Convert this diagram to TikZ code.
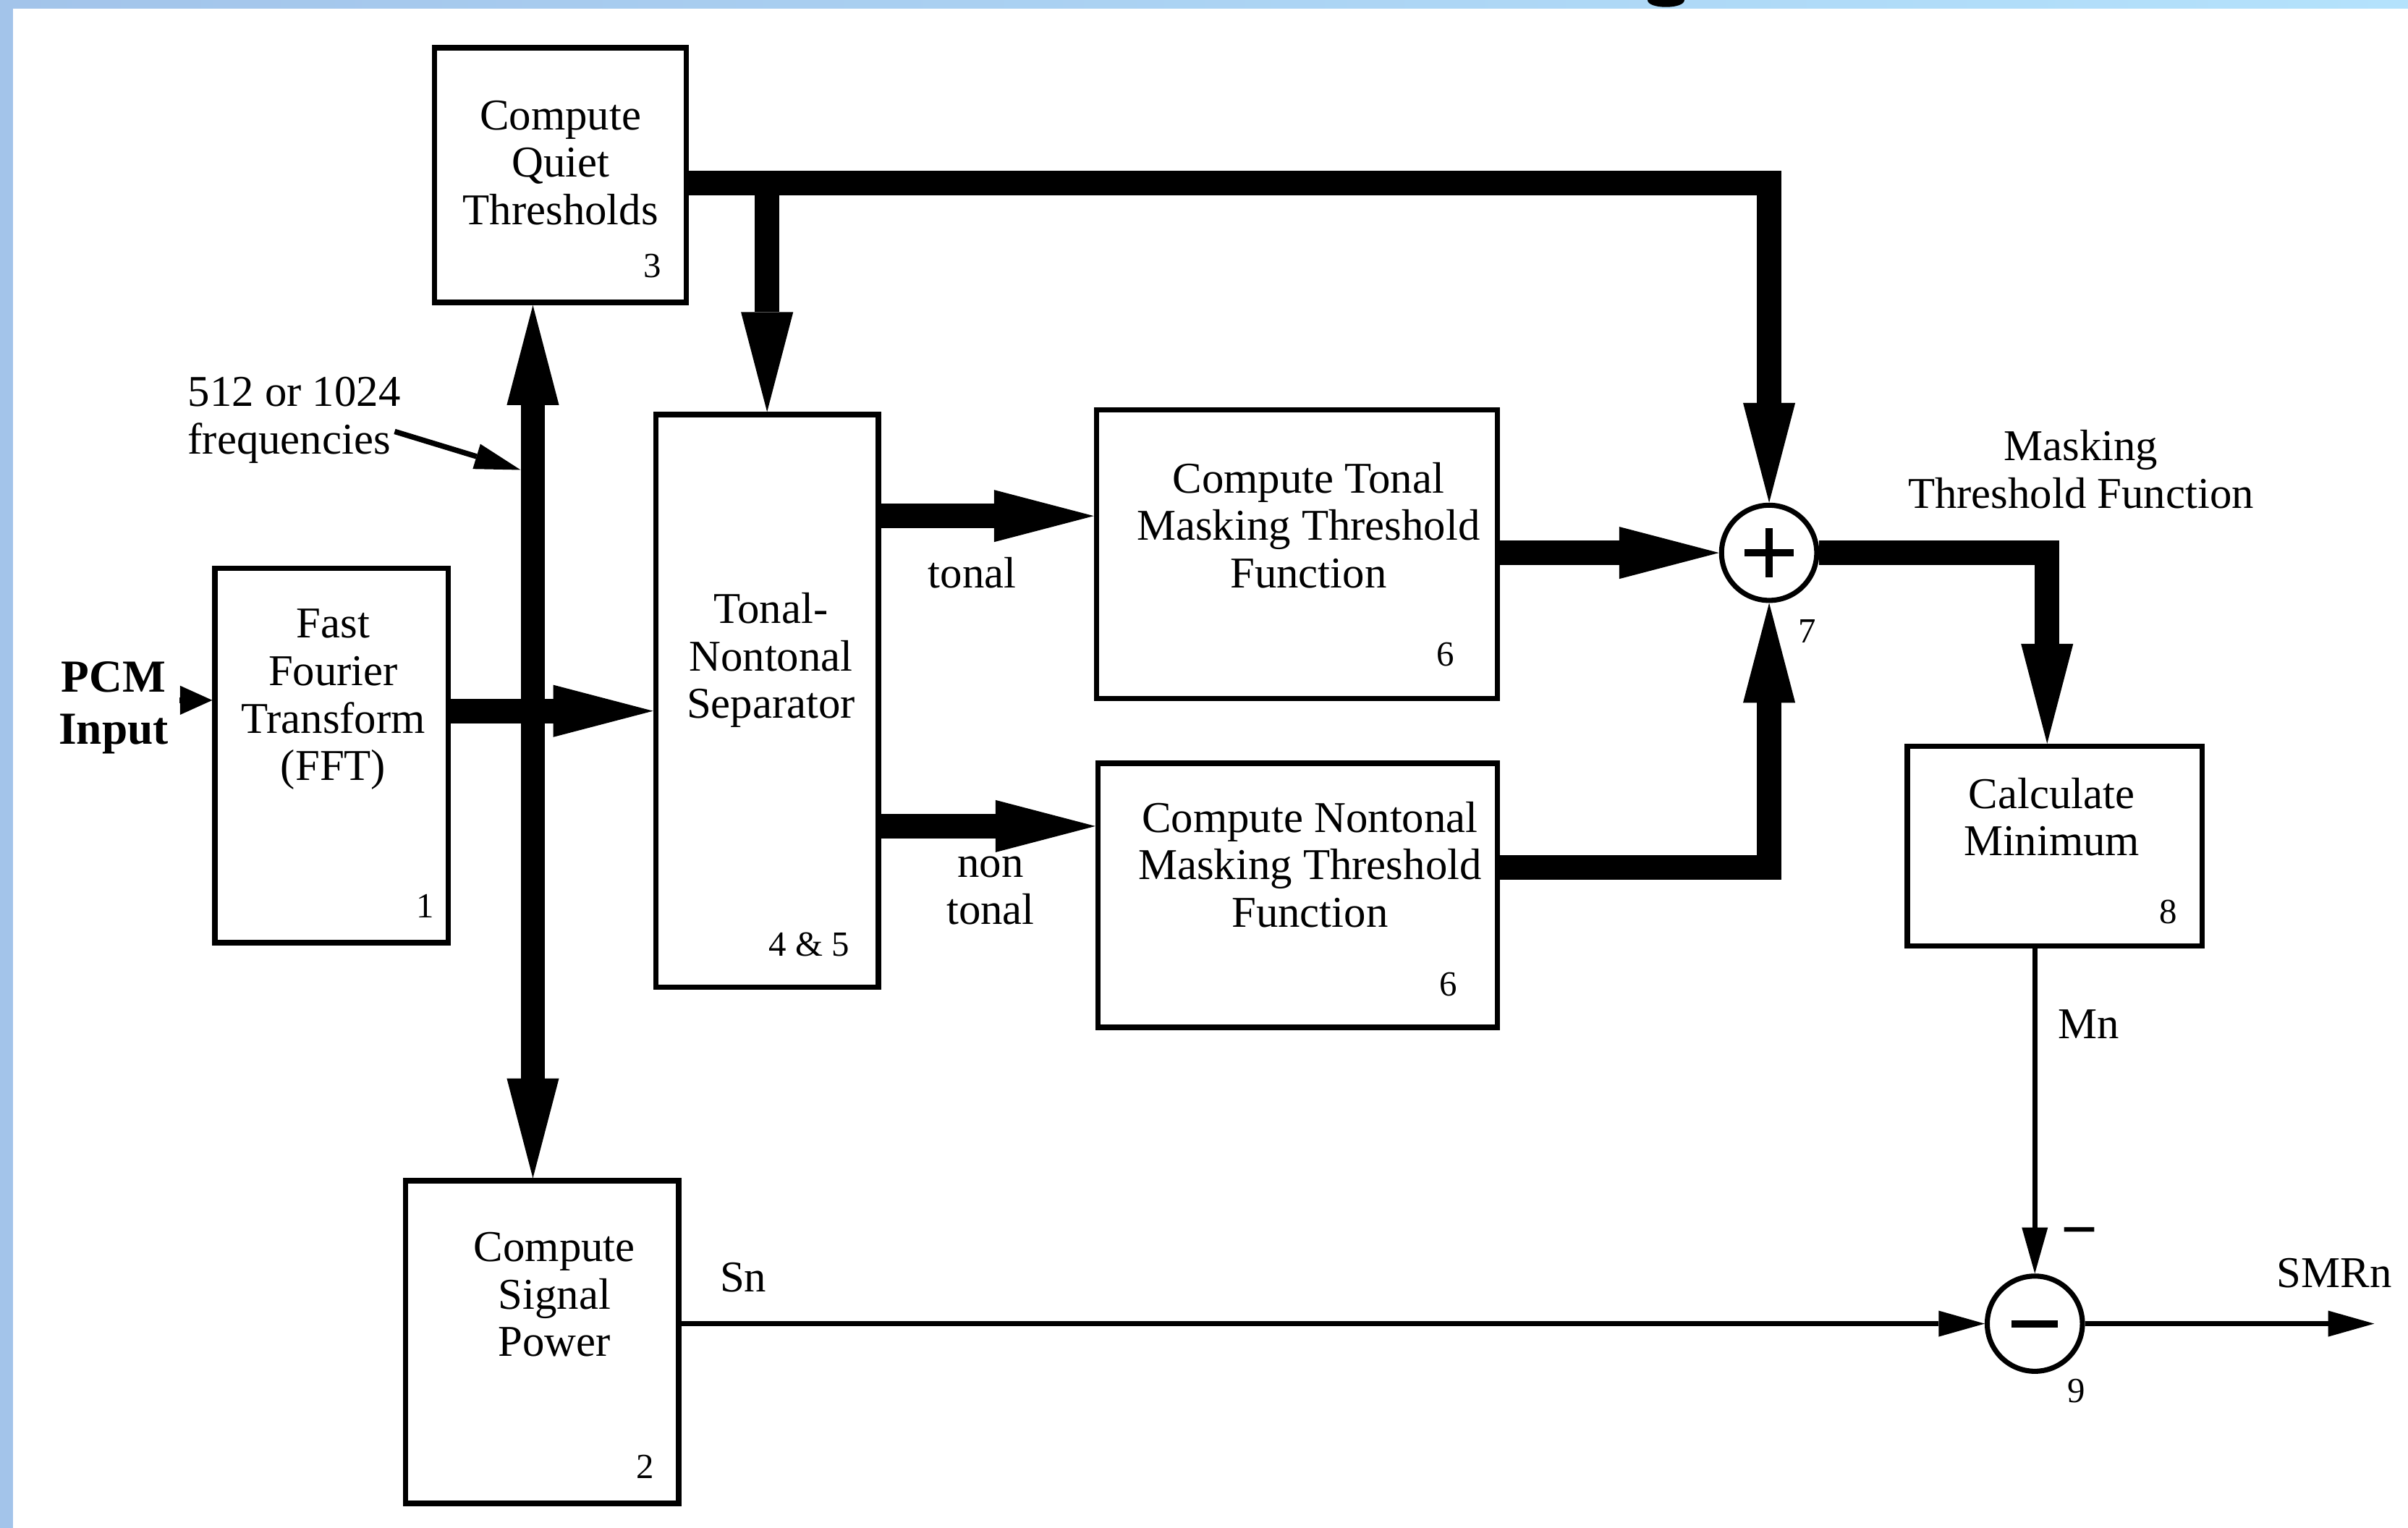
\documentclass[tikz,border=0pt]{standalone}
\usepackage{fontspec}
\setmainfont{Liberation Serif}
\usetikzlibrary{arrows.meta,fit,calc}
\definecolor{frameL}{RGB}{163,196,234}
\definecolor{frameR}{RGB}{180,226,252}
\begin{document}
\begin{tikzpicture}[x=0.02cm,y=-0.02cm,
  blk/.style={draw, line width=2pt, inner sep=0pt, rectangle},
  txt/.style={font=\fontsize{16.3}{17.6}\selectfont, align=center, inner sep=0pt},
  num/.style={font=\fontsize{13.1}{14}\selectfont, inner sep=0pt},
  bus/.style={line width=0.32cm},
  bigtip/.style={-{Triangle[length=1.3cm,width=0.68cm,line width=0pt]}},
  thn/.style={line width=2pt},
  smalltip/.style={-{Triangle[length=0.6cm,width=0.34cm,line width=0pt]}},
  sumj/.style={draw, circle, line width=1.9pt, minimum size=1.24cm, inner sep=0pt},
  sign/.style={line width=2.7pt}
]
% frame
\useasboundingbox (0,0) rectangle (1568,995);
\fill[white] (0,0) rectangle (1568,995);
\shade[left color=frameL, right color=frameR] (0,0) rectangle (1568,5.2);
\fill[frameL] (0,0) rectangle (8.5,995);
\fill (1073,0) .. controls (1073,6) and (1097,6) .. (1097,0) -- cycle;

% boxes
\node[blk, fit={(283,31) (447,197)}] (q) {};
\node[blk, fit={(140,370) (292,614)}] (fft) {};
\node[blk, fit={(427,270) (572,643)}] (sep) {};
\node[blk, fit={(714,267) (975,455)}] (tmt) {};
\node[blk, fit={(715,497) (975,669)}] (nmt) {};
\node[blk, fit={(1242,486) (1434,616)}] (cmin) {};
\node[blk, fit={(264,769) (442,979)}] (sp) {};

% box texts
\node[txt] (qt) at (365,106) {Compute\\Quiet\\Thresholds};
\node[num] (qn) at (425,173) {3};
\node[txt] (fftt) at (217,455.5) {Fast\\Fourier\\Transform\\(FFT)};
\node[num] (fftn) at (277,590) {1};
\node[txt] (sept) at (502,430) {Tonal-\\Nontonal\\Separator};
\node[num] (sepn) at (527,615) {4 \& 5};
\node[txt] (tmtt) at (852,342) {Compute Tonal\\Masking Threshold\\Function};
\node[num] (tmtn) at (941,426) {6};
\node[txt] (nmtt) at (853,563) {Compute Nontonal\\Masking Threshold\\Function};
\node[num] (nmtn) at (943,641) {6};
\node[txt] (cmint) at (1336,532) {Calculate\\Minimum};
\node[num] (cminn) at (1412,594) {8};
\node[txt] (spt) at (361,843) {Compute\\Signal\\Power};
\node[num] (spn) at (420,955) {2};

% summing junctions
\node[sumj] (plus) at (1152,360) {};
\draw[sign] ($(plus)+(-16,0)$) -- ($(plus)+(16,0)$);
\draw[sign] ($(plus)+(0,-16)$) -- ($(plus)+(0,16)$);
\node[num] (plusn) at (1177,411) {7};
\node[sumj] (minus) at (1325,862) {};
\draw[sign] ($(minus)+(-15,0)$) -- ($(minus)+(15,0)$);
\node[num] (minusn) at (1352,906) {9};

% thick connectors
\coordinate (tc) at (1152,119);
\draw[bus,bigtip] (q.east |- tc) -| (plus.north);
\draw[bus,bigtip] (sep.north |- tc) -- (sep.north);
\coordinate (fo) at (292,463);
\draw[bus,bigtip] (fft.east |- fo) -- (sep.west |- fo);
\coordinate (bx) at (347,463);
\draw[bus,{Triangle[length=1.3cm,width=0.68cm,line width=0pt]}-{Triangle[length=1.3cm,width=0.68cm,line width=0pt]}] (bx |- q.south) -- (bx |- sp.north);
\coordinate (to) at (572,336);
\draw[bus,bigtip] (sep.east |- to) -- (tmt.west |- to);
\coordinate (no) at (572,538);
\draw[bus,bigtip] (sep.east |- no) -- (nmt.west |- no);
\draw[bus,bigtip] (tmt.east |- plus) -- (plus.west);
\coordinate (nmo) at (975,565);
\draw[bus,bigtip] (nmt.east |- nmo) -| (plus.south);
\coordinate (po) at (1333,360);
\draw[bus,bigtip] (plus.east) -| (po |- cmin.north);

% thin connectors
\draw[thn,smalltip] (minus.north |- cmin.south) -- (minus.north);
\draw[thn,smalltip] (sp.east |- minus) -- (minus.west);
\coordinate (smr) at (1546,862);
\draw[thn,smalltip] (minus.east) -- (smr);
\coordinate (pcm) at (117,456);
\draw[thn,-{Triangle[length=0.42cm,width=0.38cm,line width=0pt]}] (pcm) -- (pcm -| fft.west);
\coordinate (fs) at (257,281);
\coordinate (fe) at (339,306);
\draw[thn,smalltip] (fs) -- (fe);

% labels
\node[txt, align=left, anchor=west] (freq) at (122,273.5) {512 or 1024\\frequencies};
\node[txt, font=\fontsize{17}{19.3}\selectfont\bfseries] (pcmt) at (74,461) {PCM\\Input};
\node[txt] (tonl) at (633,373) {tonal};
\node[txt] (ntonl) at (645,580) {non\\tonal};
\node[txt] (mtf) at (1355,305.5) {Masking\\Threshold Function};
\node[txt] (mn) at (1360,667) {Mn};
\node[txt] (snl) at (484,832) {Sn};
\node[txt] (smrl) at (1520,829) {SMRn};
\node[inner sep=0pt, font=\fontsize{24}{24}\selectfont\bfseries] (neg) at (1354,807) {−};
\end{tikzpicture}
\end{document}
